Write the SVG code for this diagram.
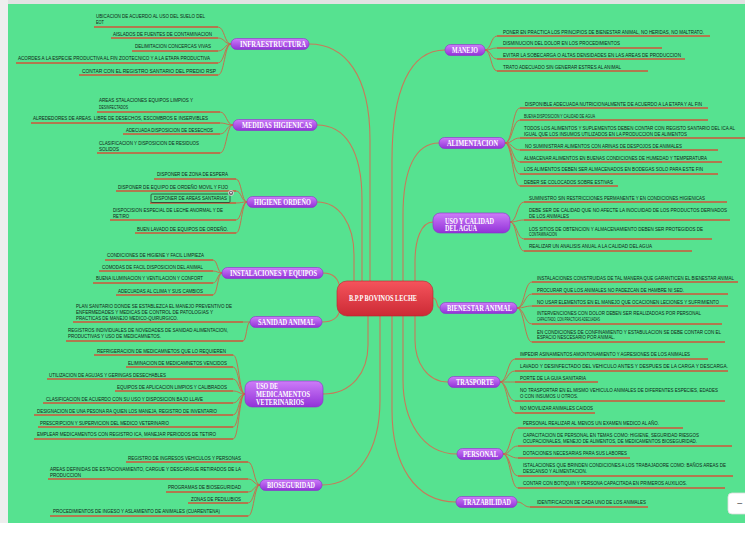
<svg xmlns="http://www.w3.org/2000/svg" width="745" height="538" viewBox="0 0 745 538">
<defs>
<linearGradient id="gp" x1="0" y1="0" x2="0" y2="1"><stop offset="0" stop-color="#cd7cf8"/><stop offset="1" stop-color="#9232d8"/></linearGradient>
<linearGradient id="gr" x1="0" y1="0" x2="0" y2="1"><stop offset="0" stop-color="#f5545c"/><stop offset="1" stop-color="#cc2a35"/></linearGradient>
</defs>
<style>
.t{font-family:"Liberation Sans",Arial,sans-serif;font-size:4.7px;fill:#0f2416}
.ul{stroke:#d0553a;stroke-width:1.4;fill:none}
.lc{stroke:#cc6547;stroke-width:0.9;fill:none}
.br{stroke:#c77a5a;stroke-width:1.1;fill:none}
.mn{fill:url(#gp);stroke:#8a2fc9;stroke-width:0.6}
.mt{font-family:"Liberation Serif","Times New Roman",serif;font-weight:bold;font-size:7.5px;fill:#ffffff}
</style>
<rect x="0" y="0" width="745" height="538" fill="#ffffff"/>
<rect x="0" y="0" width="745" height="4" fill="#e2e2e2"/>
<rect x="0" y="0" width="8" height="523" fill="#eeeeee"/>
<rect x="8" y="4" width="737" height="519" fill="#56e290"/>

<g id="connectors">
<path class="br" d="M309,44 C345,44 370,75 370,140 L370,281"/>
<path class="br" d="M317,125 C345,125 362,150 362,200 L362,281"/>
<path class="br" d="M317,202 C340,202 354,225 354,255 L354,281"/>
<path class="br" d="M323,273 C334,273 339,280 340,289"/>
<path class="br" d="M322,322 C334,322 339,316 340,309"/>
<path class="br" d="M323,394 C352,394 368,372 368,345 L368,316"/>
<path class="br" d="M322,485 C358,485 380,450 380,400 L380,316"/>
<path class="br" d="M445,50 C410,50 392,90 392,160 L392,281"/>
<path class="br" d="M439,143 C415,143 403,170 403,215 L403,281"/>
<path class="br" d="M433,222 C421,222 415,240 415,262 L415,281"/>
<path class="br" d="M433,298 C438,298 436,308 440,308"/>
<path class="br" d="M448,382 C427,382 415,362 415,340 L415,316"/>
<path class="br" d="M457,454 C422,454 403,420 403,380 L403,316"/>
<path class="br" d="M456,502 C415,502 392,465 392,410 L392,316"/>

<path class="lc" d="M231,44 C224.5,44 224.5,27 218,27 M231,44 C224.5,44 224.5,38 218,38 M231,44 C224.5,44 224.5,51 218,51 M231,44 C224.5,44 224.5,63 218,63 M231,44 C224.5,44 224.5,75 218,75"/>
<path class="lc" d="M233,125 C226.5,125 226.5,112 220,112 M233,125 C226.5,125 226.5,123 220,123 M233,125 C226.5,125 226.5,134 220,134 M233,125 C226.5,125 226.5,153 220,153"/>
<path class="lc" d="M247,202 C241.5,202 241.5,179 236,179 M247,202 C241.5,202 241.5,191 236,191 M247,202 C241.5,202 241.5,203 236,203 M247,202 C241.5,202 241.5,220 236,220 M247,202 C241.5,202 241.5,233 236,233"/>
<path class="lc" d="M222,273 C217.5,273 217.5,260 213,260 M222,273 C217.5,273 217.5,271 213,271 M222,273 C217.5,273 217.5,283 213,283 M222,273 C217.5,273 217.5,295 213,295"/>
<path class="lc" d="M250,322 C246.5,322 246.5,322 243,322 M250,322 C246.5,322 246.5,341 243,341"/>
<path class="lc" d="M245,394 C239,394 239,355 233,355 M245,394 C239,394 239,367 233,367 M245,394 C239,394 239,379 233,379 M245,394 C239,394 239,391 233,391 M245,394 C239,394 239,403 233,403 M245,394 C239,394 239,415 233,415 M245,394 C239,394 239,427 233,427 M245,394 C239,394 239,439 233,439"/>
<path class="lc" d="M260,485 C254,485 254,462 248,462 M260,485 C254,485 254,479 248,479 M260,485 C254,485 254,492 248,492 M260,485 C254,485 254,503 248,503 M260,485 C254,485 254,516 248,516"/>
<path class="lc" d="M485,50 C491,50 491,36 497,36 M485,50 C491,50 491,48 497,48 M485,50 C491,50 491,59 497,59 M485,50 C491,50 491,71 497,71"/>
<path class="lc" d="M505,143 C512.5,143 512.5,108 520,108 M505,143 C512.5,143 512.5,120 520,120 M505,143 C512.5,143 512.5,138 520,138 M505,143 C512.5,143 512.5,150 520,150 M505,143 C512.5,143 512.5,162 520,162 M505,143 C512.5,143 512.5,174 520,174 M505,143 C512.5,143 512.5,186 520,186"/>
<path class="lc" d="M510,222 C517,222 517,202 524,202 M510,222 C517,222 517,220 524,220 M510,222 C517,222 517,239 524,239 M510,222 C517,222 517,251 524,251"/>
<path class="lc" d="M517,308 C524.5,308 524.5,282 532,282 M517,308 C524.5,308 524.5,294 532,294 M517,308 C524.5,308 524.5,306 532,306 M517,308 C524.5,308 524.5,324 532,324 M517,308 C524.5,308 524.5,342 532,342"/>
<path class="lc" d="M500,382 C507.5,382 507.5,359 515,359 M500,382 C507.5,382 507.5,371 515,371 M500,382 C507.5,382 507.5,382 515,382 M500,382 C507.5,382 507.5,401 515,401 M500,382 C507.5,382 507.5,413 515,413"/>
<path class="lc" d="M503,454 C510.5,454 510.5,428 518,428 M503,454 C510.5,454 510.5,446 518,446 M503,454 C510.5,454 510.5,458 518,458 M503,454 C510.5,454 510.5,476 518,476 M503,454 C510.5,454 510.5,488 518,488"/>
<path class="lc" d="M517,502 C523.5,502 523.5,507 530,507"/>
</g>

<g id="center">
<rect x="337" y="281" width="96" height="35" rx="10" fill="url(#gr)" stroke="#b8242e" stroke-width="0.6"/>
<text class="mt" x="349" y="301" textLength="68" lengthAdjust="spacingAndGlyphs">B.P.P BOVINOS LECHE</text>
</g>

<g id="infraestructura">
<rect class="mn" x="231" y="38.5" width="78" height="11" rx="5.5"/>
<text class="mt" x="240" y="46.7" textLength="66" lengthAdjust="spacingAndGlyphs">INFRAESTRUCTURA</text>
</g>
<g id="infra-1"><text class="t" x="96" y="17.6" textLength="109" lengthAdjust="spacingAndGlyphs">UBICACION DE ACUERDO AL USO DEL SUELO DEL</text><text class="t" x="96" y="23.6" textLength="8" lengthAdjust="spacingAndGlyphs">EOT</text><path class="ul" d="M94,27H218"/></g>
<g id="infra-2"><text class="t" x="113" y="35.6" textLength="99" lengthAdjust="spacingAndGlyphs">AISLADOS DE FUENTES DE CONTAMINACION</text><path class="ul" d="M111,38H218"/></g>
<g id="infra-3"><text class="t" x="135" y="47.6" textLength="76" lengthAdjust="spacingAndGlyphs">DELIMITACION CONCERCAS VIVAS</text><path class="ul" d="M132,51H218"/></g>
<g id="infra-4"><text class="t" x="18" y="59.6" textLength="192" lengthAdjust="spacingAndGlyphs">ACORDES A LA ESPECIE PRODUCTIVA AL FIN ZOOTECNICO Y A LA ETAPA PRODUCTIVA</text><path class="ul" d="M16,63H218"/></g>
<g id="infra-5"><text class="t" x="82" y="72.6" textLength="134" lengthAdjust="spacingAndGlyphs">CONTAR CON EL REGISTRO SANTARIO DEL PREDIO RSP</text><path class="ul" d="M79,75H218"/></g>

<g id="medidas-higienicas">
<rect class="mn" x="233" y="119.5" width="84" height="11" rx="5.5"/>
<text class="mt" x="242" y="127.7" textLength="70" lengthAdjust="spacingAndGlyphs">MEDIDAS HIGIENICAS</text>
</g>
<g id="medidas-1"><text class="t" x="99" y="101.6" textLength="94" lengthAdjust="spacingAndGlyphs">AREAS STALACIONES EQUIPOS LIMPIOS Y</text><text class="t" x="99" y="108.6" textLength="29" lengthAdjust="spacingAndGlyphs">DESINFECTADOS</text><path class="ul" d="M97,112H220"/></g>
<g id="medidas-2"><text class="t" x="33" y="119.6" textLength="175" lengthAdjust="spacingAndGlyphs">ALREDEDORES DE AREAS. LIBRE DE DESECHOS, ESCOMBROS E INSERVIBLES</text><path class="ul" d="M31,123H220"/></g>
<g id="medidas-3"><text class="t" x="126" y="131.8" textLength="87" lengthAdjust="spacingAndGlyphs">ADECUADA DISPOSICION DE DESECHOS</text><path class="ul" d="M123,134H220"/></g>
<g id="medidas-4"><text class="t" x="99" y="144.6" textLength="100" lengthAdjust="spacingAndGlyphs">CLASIFICACION Y DISPOSICION DE RESIDUOS</text><text class="t" x="99" y="150.6" textLength="20" lengthAdjust="spacingAndGlyphs">SOLIDOS</text><path class="ul" d="M97,153H220"/></g>

<g id="higiene-ordeno">
<rect class="mn" x="247" y="196.5" width="70" height="11" rx="5.5"/>
<text class="mt" x="254" y="204.7" textLength="57" lengthAdjust="spacingAndGlyphs">HIGIENE ORDEÑO</text>
</g>
<g id="higiene-1"><text class="t" x="157" y="175.6" textLength="71" lengthAdjust="spacingAndGlyphs">DISPONER DE ZONA DE ESPERA</text><path class="ul" d="M154,179H236"/></g>
<g id="higiene-2"><text class="t" x="118" y="188.6" textLength="110" lengthAdjust="spacingAndGlyphs">DISPONER DE EQUIPO DE ORDEÑO MOVIL Y FIJO</text><path class="ul" d="M116,191H236"/></g>
<g id="higiene-3"><path class="ul" d="M150,203H236"/><rect x="151" y="194" width="79" height="8.5" rx="1" fill="none" stroke="#24402e" stroke-width="0.8"/><text class="t" x="154" y="199.8" textLength="73" lengthAdjust="spacingAndGlyphs">DISPONER DE AREAS SANTARIAS</text><circle cx="231" cy="193" r="2.6" fill="#6b6b6b" stroke="#ffffff" stroke-width="0.6"/><circle cx="231" cy="192.6" r="0.9" fill="#ffffff"/></g>
<g id="higiene-4"><text class="t" x="113" y="211.6" textLength="110" lengthAdjust="spacingAndGlyphs">DISPOCISION ESPECIAL DE LECHE ANORMAL Y DE</text><text class="t" x="113" y="217.6" textLength="16" lengthAdjust="spacingAndGlyphs">RETIRO</text><path class="ul" d="M110,220H236"/></g>
<g id="higiene-5"><text class="t" x="137" y="230.6" textLength="91" lengthAdjust="spacingAndGlyphs">BUEN LAVADO DE EQUIPOS DE ORDEÑO.</text><path class="ul" d="M135,233H236"/></g>

<g id="instalaciones-equipos">
<rect class="mn" x="222" y="267.5" width="101" height="11" rx="5.5"/>
<text class="mt" x="230" y="275.7" textLength="87" lengthAdjust="spacingAndGlyphs">INSTALACIONES Y EQUIPOS</text>
</g>
<g id="instal-1"><text class="t" x="107" y="256.6" textLength="97" lengthAdjust="spacingAndGlyphs">CONDICIONES DE HIGIENE Y FACIL LIMPIEZA</text><path class="ul" d="M105,260H213"/></g>
<g id="instal-2"><text class="t" x="102" y="268.6" textLength="101" lengthAdjust="spacingAndGlyphs">COMODAS DE FACIL DISPOSICION DEL ANIMAL</text><path class="ul" d="M99,271H213"/></g>
<g id="instal-3"><text class="t" x="96" y="279.6" textLength="107" lengthAdjust="spacingAndGlyphs">BUENA ILUMINACION Y VENTILACION Y CONFORT</text><path class="ul" d="M93,283H213"/></g>
<g id="instal-4"><text class="t" x="118" y="292.6" textLength="85" lengthAdjust="spacingAndGlyphs">ADECUADAS AL CLIMA Y SUS CAMBIOS</text><path class="ul" d="M116,295H213"/></g>

<g id="sanidad-animal">
<rect class="mn" x="250" y="316.5" width="72" height="11" rx="5.5"/>
<text class="mt" x="258" y="324.7" textLength="57" lengthAdjust="spacingAndGlyphs">SANIDAD ANIMAL</text>
</g>
<g id="sanidad-1"><text class="t" x="76" y="307.6" textLength="156" lengthAdjust="spacingAndGlyphs">PLAN SANITARIO DONDE SE ESTABLEZCA EL  MANEJO PREVENTIVO DE</text><text class="t" x="76" y="313.6" textLength="137" lengthAdjust="spacingAndGlyphs">ENFERMEDADES Y MEDICAS DE CONTROL DE PATOLOGIAS Y</text><text class="t" x="76" y="319.6" textLength="102" lengthAdjust="spacingAndGlyphs">PRACTICAS DE MANEJO MEDICO-QUIRURGICO.</text><path class="ul" d="M73,322H243"/></g>
<g id="sanidad-2"><text class="t" x="68" y="331.6" textLength="160" lengthAdjust="spacingAndGlyphs">REGISTROS INDIVIDUALES DE NOVEDADES DE SANIDAD ALIMENTACION,</text><text class="t" x="68" y="337.6" textLength="93" lengthAdjust="spacingAndGlyphs">PRODUCTIVAS Y USO DE MEDICAMNETOS.</text><path class="ul" d="M66,341H243"/></g>

<g id="uso-medicamentos">
<rect class="mn" x="245" y="381" width="78" height="26" rx="7"/>
<text class="mt" x="256" y="389.2" textLength="22" lengthAdjust="spacingAndGlyphs">USO DE</text>
<text class="mt" x="256" y="397" textLength="54" lengthAdjust="spacingAndGlyphs">MEDICAMENTOS</text>
<text class="mt" x="256" y="404.8" textLength="48" lengthAdjust="spacingAndGlyphs">VETERINARIOS</text>
</g>
<g id="med-1"><text class="t" x="97" y="352.6" textLength="129" lengthAdjust="spacingAndGlyphs">REFRIGERACION DE MEDICAMNETOS QUE LO REQUIEREN</text><path class="ul" d="M94,355H233"/></g>
<g id="med-2"><text class="t" x="128" y="364.6" textLength="99" lengthAdjust="spacingAndGlyphs">ELIMINACION DE MEDICAMNETOS VENCIDOS</text><path class="ul" d="M126,367H233"/></g>
<g id="med-3"><text class="t" x="49" y="376.6" textLength="117" lengthAdjust="spacingAndGlyphs">UTILIZACION DE AGUJAS Y GERINGAS DESECHABLES</text><path class="ul" d="M47,379H233"/></g>
<g id="med-4"><text class="t" x="117" y="388.6" textLength="110" lengthAdjust="spacingAndGlyphs">EQUIPOS DE APLICACION LIMPIOS Y CALIBRADOS</text><path class="ul" d="M115,391H233"/></g>
<g id="med-5"><text class="t" x="46" y="400.6" textLength="157" lengthAdjust="spacingAndGlyphs">CLASIFICACION DE ACUERDO CON SU USO Y DISPOSICION BAJO LLAVE</text><path class="ul" d="M43,403H233"/></g>
<g id="med-6"><text class="t" x="37" y="412.6" textLength="180" lengthAdjust="spacingAndGlyphs">DESIGNACION DE UNA PESONA RA QUIEN LOS MANEJA, REGISTRO DE INVENTARIO</text><path class="ul" d="M34,415H233"/></g>
<g id="med-7"><text class="t" x="40" y="424.6" textLength="129" lengthAdjust="spacingAndGlyphs">PRESCRIPCION Y SUPERVICION DEL MEDICO VETERINARIO</text><path class="ul" d="M38,427H233"/></g>
<g id="med-8"><text class="t" x="37" y="435.6" textLength="179" lengthAdjust="spacingAndGlyphs">EMPLEAR MEDICAMENTOS CON REGISTRO ICA, MANEJAR PERIODOS DE TETIRO</text><path class="ul" d="M34,439H233"/></g>

<g id="bioseguridad">
<rect class="mn" x="260" y="479.5" width="62" height="11" rx="5.5"/>
<text class="mt" x="267" y="487.7" textLength="48" lengthAdjust="spacingAndGlyphs">BIOSEGURIDAD</text>
</g>
<g id="bio-1"><text class="t" x="128" y="459.6" textLength="113" lengthAdjust="spacingAndGlyphs">REGISTRO DE INGRESOS VEHICULOS Y PERSONAS</text><path class="ul" d="M126,462H248"/></g>
<g id="bio-2"><text class="t" x="50" y="470.6" textLength="191" lengthAdjust="spacingAndGlyphs">AREAS DEFINIDAS DE ESTACIONAMIENTO, CARGUE Y DESCARGUE RETIRADOS DE LA</text><text class="t" x="50" y="476.6" textLength="31" lengthAdjust="spacingAndGlyphs">PRODUCCION</text><path class="ul" d="M48,479H248"/></g>
<g id="bio-3"><text class="t" x="168" y="488.6" textLength="73" lengthAdjust="spacingAndGlyphs">PROGRAMAS DE BIOSEGURIDAD</text><path class="ul" d="M166,492H248"/></g>
<g id="bio-4"><text class="t" x="191" y="500.6" textLength="50" lengthAdjust="spacingAndGlyphs">ZONAS DE PEDILUBIOS</text><path class="ul" d="M188,503H248"/></g>
<g id="bio-5"><text class="t" x="53" y="512.6" textLength="167" lengthAdjust="spacingAndGlyphs">PROCEDIMIENTOS DE INGESO Y ASLAMIENTO DE ANIMALES (CUARENTENA)</text><path class="ul" d="M50,516H248"/></g>

<g id="manejo">
<rect class="mn" x="445" y="44.5" width="40" height="11" rx="5.5"/>
<text class="mt" x="452" y="52.7" textLength="26" lengthAdjust="spacingAndGlyphs">MANEJO</text>
</g>
<g id="manejo-1"><text class="t" x="503" y="33.6" textLength="201" lengthAdjust="spacingAndGlyphs">PONER EN PRACTICA LOS PRINCIPIOS DE BIENESTAR ANIMAL, NO HERIDAS, NO MALTRATO.</text><path class="ul" d="M497,36H710"/></g>
<g id="manejo-2"><text class="t" x="503" y="44.6" textLength="117" lengthAdjust="spacingAndGlyphs">DISMINUCION DEL DOLOR EN LOS PROCEDIMIENTOS</text><path class="ul" d="M497,48H662"/></g>
<g id="manejo-3"><text class="t" x="503" y="56.6" textLength="178" lengthAdjust="spacingAndGlyphs">EVITAR LA SOBECARGA  O ALTAS DENSIDADES EN LAS AREAS DE PRODUCCION</text><path class="ul" d="M497,59H685"/></g>
<g id="manejo-4"><text class="t" x="503" y="68.6" textLength="118" lengthAdjust="spacingAndGlyphs">TRATO ADECUADO SIN GENERAR ESTRES AL ANIMAL</text><path class="ul" d="M497,71H648"/></g>

<g id="alimentacion">
<rect class="mn" x="439" y="137.5" width="66" height="11" rx="5.5"/>
<text class="mt" x="447" y="145.7" textLength="51" lengthAdjust="spacingAndGlyphs">ALIMENTACION</text>
</g>
<g id="alim-1"><text class="t" x="525" y="105.6" textLength="177" lengthAdjust="spacingAndGlyphs">DISPONIBLE ADECUADA NUTRICIONALMENTE DE ACUERDO A LA ETAPA Y AL FIN</text><path class="ul" d="M520,108H708"/></g>
<g id="alim-2"><text class="t" x="524" y="117.6" textLength="71" lengthAdjust="spacingAndGlyphs">BUENA DISPOSICION Y CALIDAD DE  AGUA</text><path class="ul" d="M520,120H708"/></g>
<g id="alim-3"><text class="t" x="524" y="129.6" textLength="211" lengthAdjust="spacingAndGlyphs">TODOS LOS ALIMENTOS Y SUPLEMENTOS DEBEN CONTAR CON REGISTO SANTARIO DEL ICA AL</text><text class="t" x="524" y="135.6" textLength="163" lengthAdjust="spacingAndGlyphs">IGUAL QUE LOS INSUMOS UTILIZADOS EN LA PRODUCCION DE ALIMENTOS</text><path class="ul" d="M520,138H745"/></g>
<g id="alim-4"><text class="t" x="525" y="147.6" textLength="157" lengthAdjust="spacingAndGlyphs">NO SUMINISTRAR ALIMENTOS CON ARINAS DE DESPOJOS DE ANIMALES</text><path class="ul" d="M520,150H718"/></g>
<g id="alim-5"><text class="t" x="524" y="159.6" textLength="183" lengthAdjust="spacingAndGlyphs">ALMACENAR ALIMENTOS EN BUENAS CONDICIONES DE HUMEDAD Y TEMPERATURA</text><path class="ul" d="M520,162H722"/></g>
<g id="alim-6"><text class="t" x="524" y="170.6" textLength="179" lengthAdjust="spacingAndGlyphs">LOS ALIMENTOS DEBEN SER ALMACENADOS EN BODEGAS SOLO PARA ESTE FIN</text><path class="ul" d="M520,174H718"/></g>
<g id="alim-7"><text class="t" x="524" y="183.6" textLength="89" lengthAdjust="spacingAndGlyphs">DEBER SE COLOCADOS SOBRE ESTIVAS</text><path class="ul" d="M520,186H618"/></g>

<g id="uso-calidad-agua">
<rect class="mn" x="433" y="213" width="77" height="20" rx="7"/>
<text class="mt" x="445" y="223.5" textLength="49" lengthAdjust="spacingAndGlyphs">USO Y CALIDAD</text>
<text class="mt" x="445" y="231.3" textLength="32" lengthAdjust="spacingAndGlyphs">DEL AGUA</text>
</g>
<g id="agua-1"><text class="t" x="529" y="199.6" textLength="176" lengthAdjust="spacingAndGlyphs">SUMINISTRO SIN RESTRICCIONES PERMANENTE Y EN CONDICIONES HIGIENICAS</text><path class="ul" d="M524,202H727"/></g>
<g id="agua-2"><text class="t" x="529" y="211.6" textLength="198" lengthAdjust="spacingAndGlyphs">DEBE SER DE CALIDAD QUE NO AFECTE LA INOCUIDAD DE LOS PRODUCTOS DERIVADOS</text><text class="t" x="529" y="217.6" textLength="40" lengthAdjust="spacingAndGlyphs">DE LOS ANIMALES</text><path class="ul" d="M524,220H730"/></g>
<g id="agua-3"><text class="t" x="529" y="230.6" textLength="174" lengthAdjust="spacingAndGlyphs">LOS SITIOS DE OBTENCION Y ALMACENAMIENTO DEBEN SER PROTEGIDOS DE</text><text class="t" x="529" y="235.9" textLength="28" lengthAdjust="spacingAndGlyphs">CONTAMINACION</text><path class="ul" d="M524,239H712"/></g>
<g id="agua-4"><text class="t" x="529" y="247.6" textLength="123" lengthAdjust="spacingAndGlyphs">REALIZAR UN ANALISIS ANUAL A LA CALIDAD DEL  AGUA</text><path class="ul" d="M524,251H692"/></g>

<g id="bienestar-animal">
<rect class="mn" x="440" y="302.5" width="77" height="11" rx="5.5"/>
<text class="mt" x="447" y="310.7" textLength="65" lengthAdjust="spacingAndGlyphs">BIENESTAR ANIMAL</text>
</g>
<g id="bien-1"><text class="t" x="537" y="279.6" textLength="197" lengthAdjust="spacingAndGlyphs">INSTALACIONES CONSTRUIDAS DE TAL MANERA QUE GARANTICEN EL BIENESTAR ANIMAL</text><path class="ul" d="M532,282H738"/></g>
<g id="bien-2"><text class="t" x="537" y="291.6" textLength="147" lengthAdjust="spacingAndGlyphs">PROCURAR QUE LOS ANIMALES NO PADEZCAN DE HAMBRE NI SED.</text><path class="ul" d="M532,294H728"/></g>
<g id="bien-3"><text class="t" x="537" y="303.6" textLength="182" lengthAdjust="spacingAndGlyphs">NO USAR ELEMENTOS EN EL MANEJO QUE OCACIONEN LECIONES Y SUFRIMIENTO</text><path class="ul" d="M532,306H728"/></g>
<g id="bien-4"><text class="t" x="537" y="314.6" textLength="164" lengthAdjust="spacingAndGlyphs">INTERVENCIONES CON DOLOR DEBEN SER REALIZADOAS POR PERSONAL</text><text class="t" x="537" y="320.6" textLength="63" lengthAdjust="spacingAndGlyphs">CAPACITADO, CON PRACTICAS ADECUADAS</text><path class="ul" d="M532,324H722"/></g>
<g id="bien-5"><text class="t" x="537" y="333.6" textLength="184" lengthAdjust="spacingAndGlyphs">EN CONDICIONES DE CONFINAMIENTO  Y ESTABULACION SE DEBE CONTAR CON EL</text><text class="t" x="537" y="338.9" textLength="78" lengthAdjust="spacingAndGlyphs">ESPACIO NESCESARIO POR ANIMAL.</text><path class="ul" d="M532,342H725"/></g>

<g id="trasporte">
<rect class="mn" x="448" y="376.5" width="52" height="11" rx="5.5"/>
<text class="mt" x="456" y="384.7" textLength="38" lengthAdjust="spacingAndGlyphs">TRASPORTE</text>
</g>
<g id="tras-1"><text class="t" x="520" y="355.6" textLength="170" lengthAdjust="spacingAndGlyphs">IMPEDIR ASINAMIENTOS AMONTONAMIENTO Y AGRESIONES DE LOS ANIMALES</text><path class="ul" d="M515,359H708"/></g>
<g id="tras-2"><text class="t" x="520" y="367.6" textLength="208" lengthAdjust="spacingAndGlyphs">LAVADO Y DESINFECTADO DEL VEHICULO ANTES Y DESPUES DE LA CARGA Y DESCARGA.</text><path class="ul" d="M515,371H728"/></g>
<g id="tras-3"><text class="t" x="520" y="379.6" textLength="66" lengthAdjust="spacingAndGlyphs">PORTE DE LA GUIA SANITARIA</text><path class="ul" d="M515,382H598"/></g>
<g id="tras-4"><text class="t" x="520" y="391.6" textLength="198" lengthAdjust="spacingAndGlyphs">NO TRASPORTAR EN EL MISMO VEHICULO ANIMALES DE DIFERENTES ESPECIES, EDADES</text><text class="t" x="520" y="397.6" textLength="58" lengthAdjust="spacingAndGlyphs">O CON INSUMOS U OTROS.</text><path class="ul" d="M515,401H725"/></g>
<g id="tras-5"><text class="t" x="520" y="409.6" textLength="73" lengthAdjust="spacingAndGlyphs">NO MOVILIZAR ANIMALES CAIDOS</text><path class="ul" d="M515,413H595"/></g>

<g id="personal">
<rect class="mn" x="457" y="448.5" width="46" height="11" rx="5.5"/>
<text class="mt" x="463" y="456.7" textLength="35" lengthAdjust="spacingAndGlyphs">PERSONAL</text>
</g>
<g id="pers-1"><text class="t" x="523" y="424.6" textLength="136" lengthAdjust="spacingAndGlyphs">PERSONAL REALIZAR AL MENOS UN EXAMEN MEDICO AL AÑO.</text><path class="ul" d="M518,428H683"/></g>
<g id="pers-2"><text class="t" x="523" y="436.6" textLength="176" lengthAdjust="spacingAndGlyphs">CAPACITACION DE PERSONAL EN TEMAS COMO: HIGIENE, SEGURIDAD RIESGOS</text><text class="t" x="523" y="442.6" textLength="174" lengthAdjust="spacingAndGlyphs">OCUPACIONALES, MENEJO DE ALIMENTOS, DE MEDICAMENTOS BIOSEGURIDAD.</text><path class="ul" d="M518,446H732"/></g>
<g id="pers-3"><text class="t" x="523" y="454.6" textLength="104" lengthAdjust="spacingAndGlyphs">DOTACIONES NECESARIAS PARA SUS LABORES</text><path class="ul" d="M518,458H630"/></g>
<g id="pers-4"><text class="t" x="523" y="466.6" textLength="203" lengthAdjust="spacingAndGlyphs">ISTALACIONES QUE BRINDEN CONDICIONES A LOS TRABAJADORE COMO: BAÑOS AREAS DE</text><text class="t" x="523" y="472.6" textLength="64" lengthAdjust="spacingAndGlyphs">DESCANSO Y ALIMENTACION.</text><path class="ul" d="M518,476H733"/></g>
<g id="pers-5"><text class="t" x="523" y="484.6" textLength="164" lengthAdjust="spacingAndGlyphs">CONTAR CON BOTIQUIN Y PERSONA CAPACITADA EN PRIMEROS AUXILIOS.</text><path class="ul" d="M518,488H725"/></g>

<g id="trazabilidad">
<rect class="mn" x="456" y="496.5" width="61" height="11" rx="5.5"/>
<text class="mt" x="463" y="504.7" textLength="48" lengthAdjust="spacingAndGlyphs">TRAZABILIDAD</text>
</g>
<g id="traz-1"><text class="t" x="537" y="503.6" textLength="109" lengthAdjust="spacingAndGlyphs">IDENTIFICACION DE CADA UNO DE LOS ANIMALES</text><path class="ul" d="M530,507H648"/></g>

<g id="zoom-button">
<rect x="728" y="493" width="24" height="21" rx="4" fill="#ffffff" stroke="#dddddd" stroke-width="0.8"/>
<text x="737" y="507" font-family="Liberation Sans, Arial, sans-serif" font-size="10" fill="#555555">−</text>
</g>
</svg>
